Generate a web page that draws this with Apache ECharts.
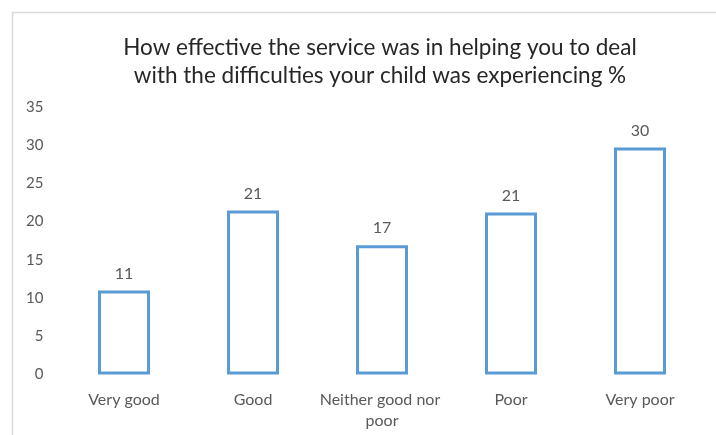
<!DOCTYPE html>
<html>
<head>
<meta charset="utf-8">
<script src="https://cdn.jsdelivr.net/npm/echarts@6/dist/echarts.min.js"></script>
<style>
html,body{margin:0;padding:0;background:#fff;}
#chart{width:716px;height:435px;}
</style>
</head>
<body>
<div id="chart"></div>
<script>
var titleLines = ['How effective the service was in helping you to deal', 'with the difficulties your child was experiencing %'];
var categories = ['Very good', 'Good', 'Neither good nor poor', 'Poor', 'Very poor'];
var values = [11.0, 21.45, 16.9, 21.2, 29.7];
var yTicks = [0, 5, 10, 15, 20, 25, 30, 35];

var chart = echarts.init(document.getElementById('chart'), null, {renderer: 'canvas'});
var font = 'Lato, "Liberation Sans", sans-serif';
chart.setOption({
  animation: false,
  backgroundColor: '#ffffff',
  graphic: [{
    type: 'rect',
    shape: {x: 12.5, y: 12.5, width: 760, height: 460},
    style: {fill: 'none', stroke: '#d9d9d9', lineWidth: 1.5},
    silent: true
  }],
  title: {
    text: titleLines.join('\n'),
    left: 375,
    top: 29,
    textAlign: 'center',
    textStyle: {fontFamily: font, fontSize: 22.5, fontWeight: 'normal', color: '#262626', lineHeight: 28}
  },
  grid: {left: 59.5, right: 11.5, top: 107, bottom: 60.5, containLabel: false},
  xAxis: {
    type: 'category',
    data: categories,
    axisLine: {show: false},
    axisTick: {show: false},
    axisLabel: {
      margin: 15, fontFamily: font, fontSize: 16, color: '#595959', lineHeight: 21,
      width: 128, overflow: 'break', interval: 0
    }
  },
  yAxis: {
    type: 'value',
    min: yTicks[0],
    max: yTicks[yTicks.length - 1],
    interval: yTicks[1] - yTicks[0],
    axisLine: {show: false},
    axisTick: {show: false},
    splitLine: {show: false},
    axisLabel: {margin: 16, fontFamily: font, fontSize: 15, color: '#595959'}
  },
  series: [{
    type: 'bar',
    data: values,
    barWidth: 52,
    itemStyle: {color: '#ffffff', borderColor: '#5b9bd5', borderWidth: 3},
    label: {
      show: true, position: 'top', distance: 9,
      fontFamily: font, fontSize: 16, color: '#595959',
      formatter: function (p) { return String(Math.round(p.value)); }
    }
  }]
});
</script>
</body>
</html>
